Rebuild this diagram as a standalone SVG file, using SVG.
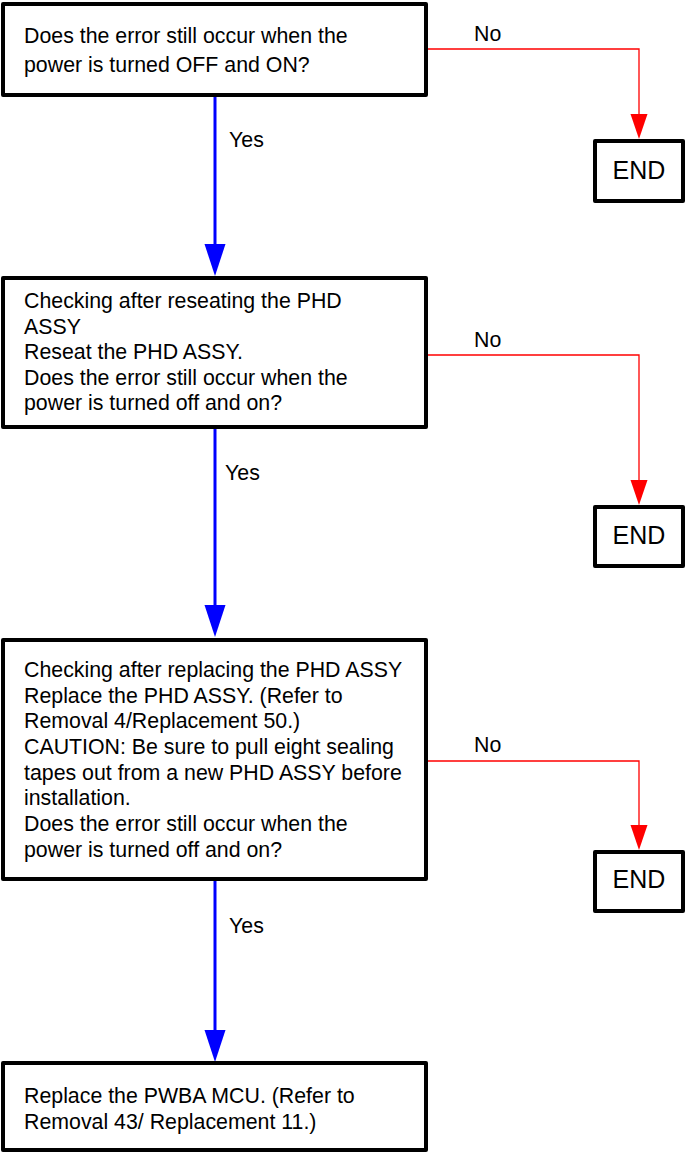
<svg xmlns="http://www.w3.org/2000/svg" width="685" height="1153" viewBox="0 0 685 1153">
<style>
.box{fill:#fff;stroke:#000;stroke-width:4;stroke-linejoin:round}
.t{font-family:"Liberation Sans",Arial,sans-serif;font-size:21.33px;fill:#000}
.end{font-family:"Liberation Sans",Arial,sans-serif;font-size:25px;fill:#000;text-anchor:middle}
.yes{fill:none;stroke:#0000FF;stroke-width:3}
.no{fill:none;stroke:#FF0000;stroke-width:1.3}
</style>
<defs>
<marker id="ab" markerUnits="userSpaceOnUse" markerWidth="32" markerHeight="22" refX="0" refY="10.5" orient="auto" overflow="visible"><path d="M0,0 L32,10.5 L0,21 z" fill="#0000FF"/></marker>
<marker id="ar" markerUnits="userSpaceOnUse" markerWidth="26" markerHeight="18" refX="0" refY="8.5" orient="auto" overflow="visible"><path d="M0,0 L25,8.5 L0,17 z" fill="#FF0000"/></marker>
</defs>
<rect width="685" height="1153" fill="#fff"/>
<g id="connectors">
<path class="yes" d="M215,96 V244" marker-end="url(#ab)"/>
<path class="yes" d="M215,429 V605" marker-end="url(#ab)"/>
<path class="yes" d="M215,881 V1030" marker-end="url(#ab)"/>
<path class="no" d="M427,49 H639 V114" marker-end="url(#ar)"/>
<path class="no" d="M427,355 H639 V480" marker-end="url(#ar)"/>
<path class="no" d="M427,761 H639 V825" marker-end="url(#ar)"/>
<text class="t" x="229" y="146.5">Yes</text>
<text class="t" x="225" y="480">Yes</text>
<text class="t" x="229" y="933">Yes</text>
<text class="t" x="474" y="41">No</text>
<text class="t" x="474" y="347">No</text>
<text class="t" x="474" y="752">No</text>
</g>
<g id="q1">
<rect class="box" x="3" y="4" width="423" height="91"/>
<text class="t" x="24" y="43">Does the error still occur when the</text>
<text class="t" x="24" y="71.5">power is turned OFF and ON?</text>
</g>
<g id="end1">
<rect class="box" x="595" y="141" width="88" height="60"/>
<text class="end" x="639" y="179">END</text>
</g>
<g id="q2">
<rect class="box" x="3" y="278" width="423" height="149"/>
<text class="t" x="24" y="308">Checking after reseating the PHD</text>
<text class="t" x="24" y="333.5">ASSY</text>
<text class="t" x="24" y="359">Reseat the PHD ASSY.</text>
<text class="t" x="24" y="384.5">Does the error still occur when the</text>
<text class="t" x="24" y="410">power is turned off and on?</text>
</g>
<g id="end2">
<rect class="box" x="595" y="507" width="88" height="59"/>
<text class="end" x="639" y="544">END</text>
</g>
<g id="q3">
<rect class="box" x="3" y="640" width="423" height="239"/>
<text class="t" x="24" y="677">Checking after replacing the PHD ASSY</text>
<text class="t" x="24" y="702.5">Replace the PHD ASSY. (Refer to</text>
<text class="t" x="24" y="728">Removal 4/Replacement 50.)</text>
<text class="t" x="24" y="754">CAUTION: Be sure to pull eight sealing</text>
<text class="t" x="24" y="779.5">tapes out from a new PHD ASSY before</text>
<text class="t" x="24" y="805">installation.</text>
<text class="t" x="24" y="830.5">Does the error still occur when the</text>
<text class="t" x="24" y="856.5">power is turned off and on?</text>
</g>
<g id="end3">
<rect class="box" x="595" y="852" width="88" height="59"/>
<text class="end" x="639" y="888">END</text>
</g>
<g id="a4">
<rect class="box" x="3" y="1063" width="423" height="87"/>
<text class="t" x="24" y="1103">Replace the PWBA MCU. (Refer to</text>
<text class="t" x="24" y="1129">Removal 43/ Replacement 11.)</text>
</g>
</svg>
